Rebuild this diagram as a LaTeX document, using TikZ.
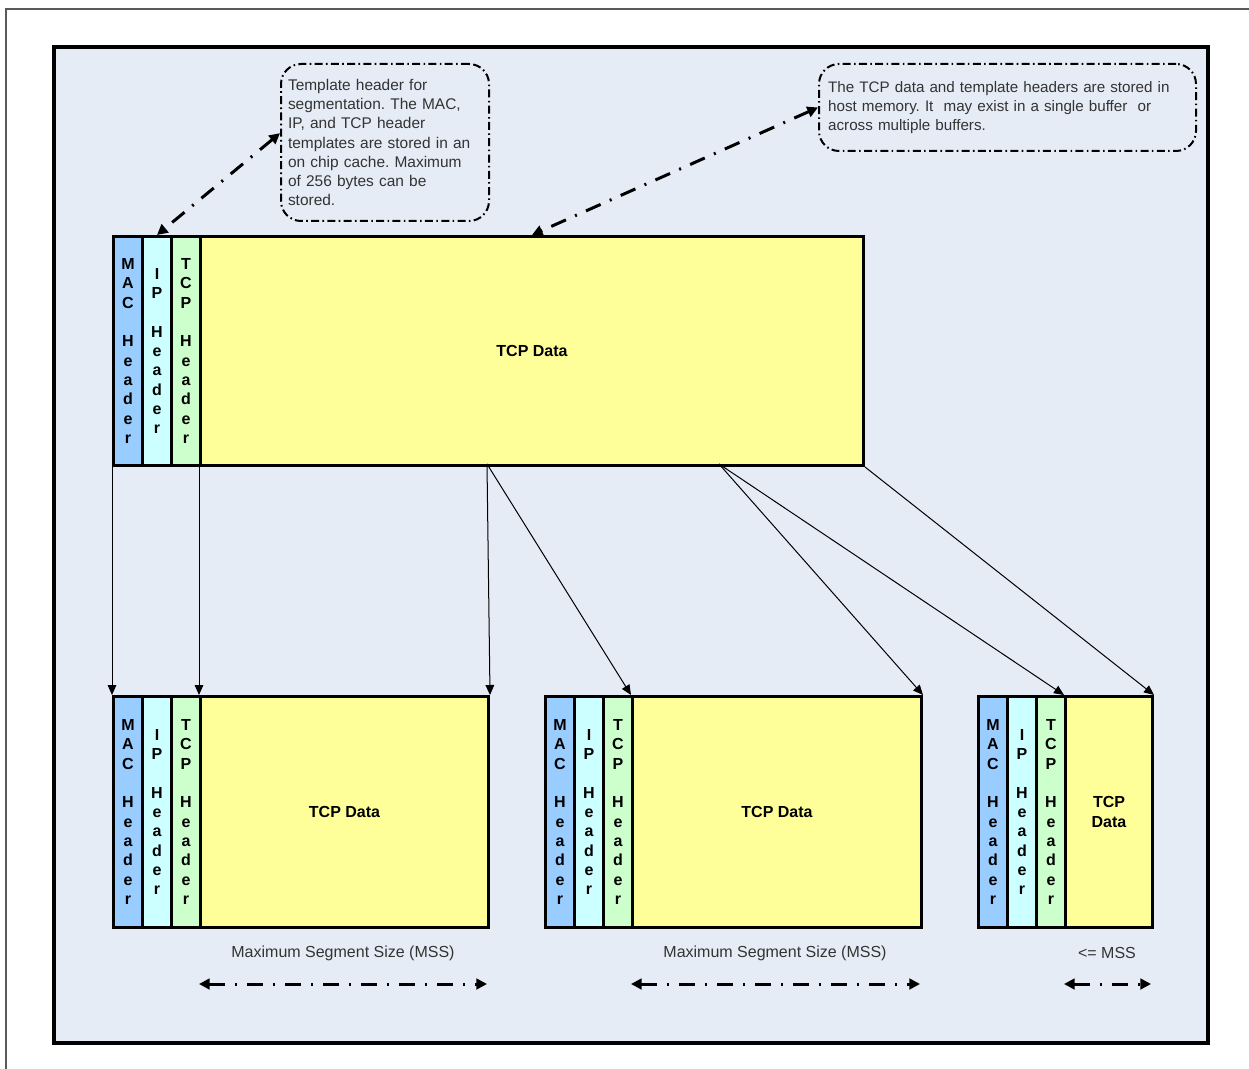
\documentclass[tikz,border=0pt]{standalone}
\usepackage{fontspec}
\setmainfont{Liberation Sans}
\usetikzlibrary{arrows.meta}

\definecolor{bgblue}{RGB}{230,236,246}
\definecolor{macblue}{RGB}{153,204,255}
\definecolor{ipcyan}{RGB}{204,255,255}
\definecolor{tcpgreen}{RGB}{204,255,204}
\definecolor{datayellow}{RGB}{255,255,153}
\definecolor{notegray}{RGB}{51,51,51}

\tikzset{every picture/.style={line width=0.75pt}}
\tikzset{
  strip/.style={draw, line width=2.25pt, inner sep=0pt, anchor=north west, minimum width=21.75pt, align=center, font=\fontsize{12}{14.5}\selectfont\bfseries},
  macbox/.style={strip, fill=macblue},
  ipbox/.style={strip, fill=ipcyan},
  tcpbox/.style={strip, fill=tcpgreen},
  databox/.style={strip, fill=datayellow},
  tophigh/.style={minimum height=171.75pt},
  lowhigh/.style={minimum height=173.25pt},
  note/.style={draw, rounded corners=15pt, line width=1.5pt, dash pattern=on 6pt off 2.5pt on 1.2pt off 2.5pt, align=left, anchor=north west, inner ysep=0pt, text=notegray},
  link/.style={line width=2.25pt, dash pattern=on 12pt off 7.5pt on 1.5pt off 7.5pt, {Triangle[length=8pt,width=8pt]}-{Triangle[length=8pt,width=8pt]}},
  feed/.style={-{Triangle[length=7.5pt,width=6.5pt]}},
  msslabel/.style={text=notegray, font=\fontsize{12}{14.4}\selectfont}
}

\begin{document}
\begin{tikzpicture}[x=0.75pt,y=0.75pt,yscale=-1,xscale=1]
\useasboundingbox (0,0) rectangle (1249,1069);

%Shape: Outer Frame
\draw [color=gray!70!black, line width=1.5pt] (6,1069) -- (6,9) -- (1249,9);
%Shape: Rectangle
\draw [line width=3pt, fill=bgblue] (54,47) rectangle (1208,1043);

% Text Node
\node [note, minimum width=156pt, minimum height=117.75pt, text width=145.5pt, inner xsep=5.25pt,
  font=\fontsize{11.6}{14.4}\selectfont\frenchspacing] (note1) at (280,63)
  {Template header for\\segmentation. The MAC,\\IP, and TCP header\\templates are stored in an\\on chip cache. Maximum\\of 256 bytes can be\\stored.};
% Text Node
\node [note, minimum width=282.75pt, minimum height=65.25pt, text width=275pt, inner xsep=3.875pt,
  font=\fontsize{11.4}{14.25}\selectfont\frenchspacing] (note2) at (818,63)
  {\hspace*{3pt}The TCP data and template headers are stored in\\\hspace*{3pt}host memory. It~ may exist in a single buffer~ or\\\hspace*{3pt}across multiple buffers.};

%Shape: Source Segment
\node [macbox, tophigh] (mac0) at (112,235) {M\\A\\C\\[14.5pt]H\\e\\a\\d\\e\\r};
\node [ipbox, tophigh] (ip0) at (141,235) {I\\P\\[14.5pt]H\\e\\a\\d\\e\\r};
\node [tcpbox, tophigh] (tcp0) at (170,235) {T\\C\\P\\[14.5pt]H\\e\\a\\d\\e\\r};
\node [databox, tophigh, minimum width=497.25pt] (data0) at (199,235) {TCP Data};

%Shape: Segment 1
\node [macbox, lowhigh] (mac1) at (112,695) {M\\A\\C\\[14.5pt]H\\e\\a\\d\\e\\r};
\node [ipbox, lowhigh] (ip1) at (141,695) {I\\P\\[14.5pt]H\\e\\a\\d\\e\\r};
\node [tcpbox, lowhigh] (tcp1) at (170,695) {T\\C\\P\\[14.5pt]H\\e\\a\\d\\e\\r};
\node [databox, lowhigh, minimum width=216pt] (data1) at (199,695) {TCP Data};

%Shape: Segment 2
\node [macbox, lowhigh] (mac2) at (544,695) {M\\A\\C\\[14.5pt]H\\e\\a\\d\\e\\r};
\node [ipbox, lowhigh] (ip2) at (573,695) {I\\P\\[14.5pt]H\\e\\a\\d\\e\\r};
\node [tcpbox, lowhigh] (tcp2) at (602,695) {T\\C\\P\\[14.5pt]H\\e\\a\\d\\e\\r};
\node [databox, lowhigh, minimum width=216.75pt] (data2) at (631,695) {TCP Data};

%Shape: Segment 3
\node [macbox, lowhigh] (mac3) at (977,695) {M\\A\\C\\[14.5pt]H\\e\\a\\d\\e\\r};
\node [ipbox, lowhigh] (ip3) at (1006,695) {I\\P\\[14.5pt]H\\e\\a\\d\\e\\r};
\node [tcpbox, lowhigh] (tcp3) at (1035,695) {T\\C\\P\\[14.5pt]H\\e\\a\\d\\e\\r};
\node [databox, lowhigh, minimum width=65.25pt] (data3) at (1064,695) {TCP\\Data};

%Straight Lines
\coordinate (cut1) at (487,464);
\coordinate (cut2) at (719,464);
\draw [feed] (mac0.south west) -- (mac1.north west);
\draw [feed] (data0.south west) -- (data1.north west);
\draw [feed] (cut1) -- (data1.north east);
\draw [feed] (cut1) -- (data2.north west);
\draw [feed] (cut2) -- (data2.north east);
\draw [feed] (cut2) -- (data3.north west);
\draw [feed] (data0.south east) -- (data3.north east);

%Straight Lines
\draw [link] ([yshift=-7pt]note1.west) -- (ip0.north);
\draw [link] (note2.west) -- (data0.north);

% Text Node
\node [msslabel] (mss1) at (343,953) {Maximum Segment Size (MSS)};
\node [msslabel] (mss2) at (775,953) {Maximum Segment Size (MSS)};
\node [msslabel] (mss3) at (1107,953) {<= MSS};

%Straight Lines
\coordinate (m1l) at (199,984);
\coordinate (m1r) at (487,984);
\coordinate (m2l) at (631,984);
\coordinate (m2r) at (920,984);
\coordinate (m3l) at (1064,984);
\coordinate (m3r) at (1151,984);
\draw [link] (m1l) -- (m1r);
\draw [link] (m2l) -- (m2r);
\draw [link] (m3l) -- (m3r);

\end{tikzpicture}
\end{document}
